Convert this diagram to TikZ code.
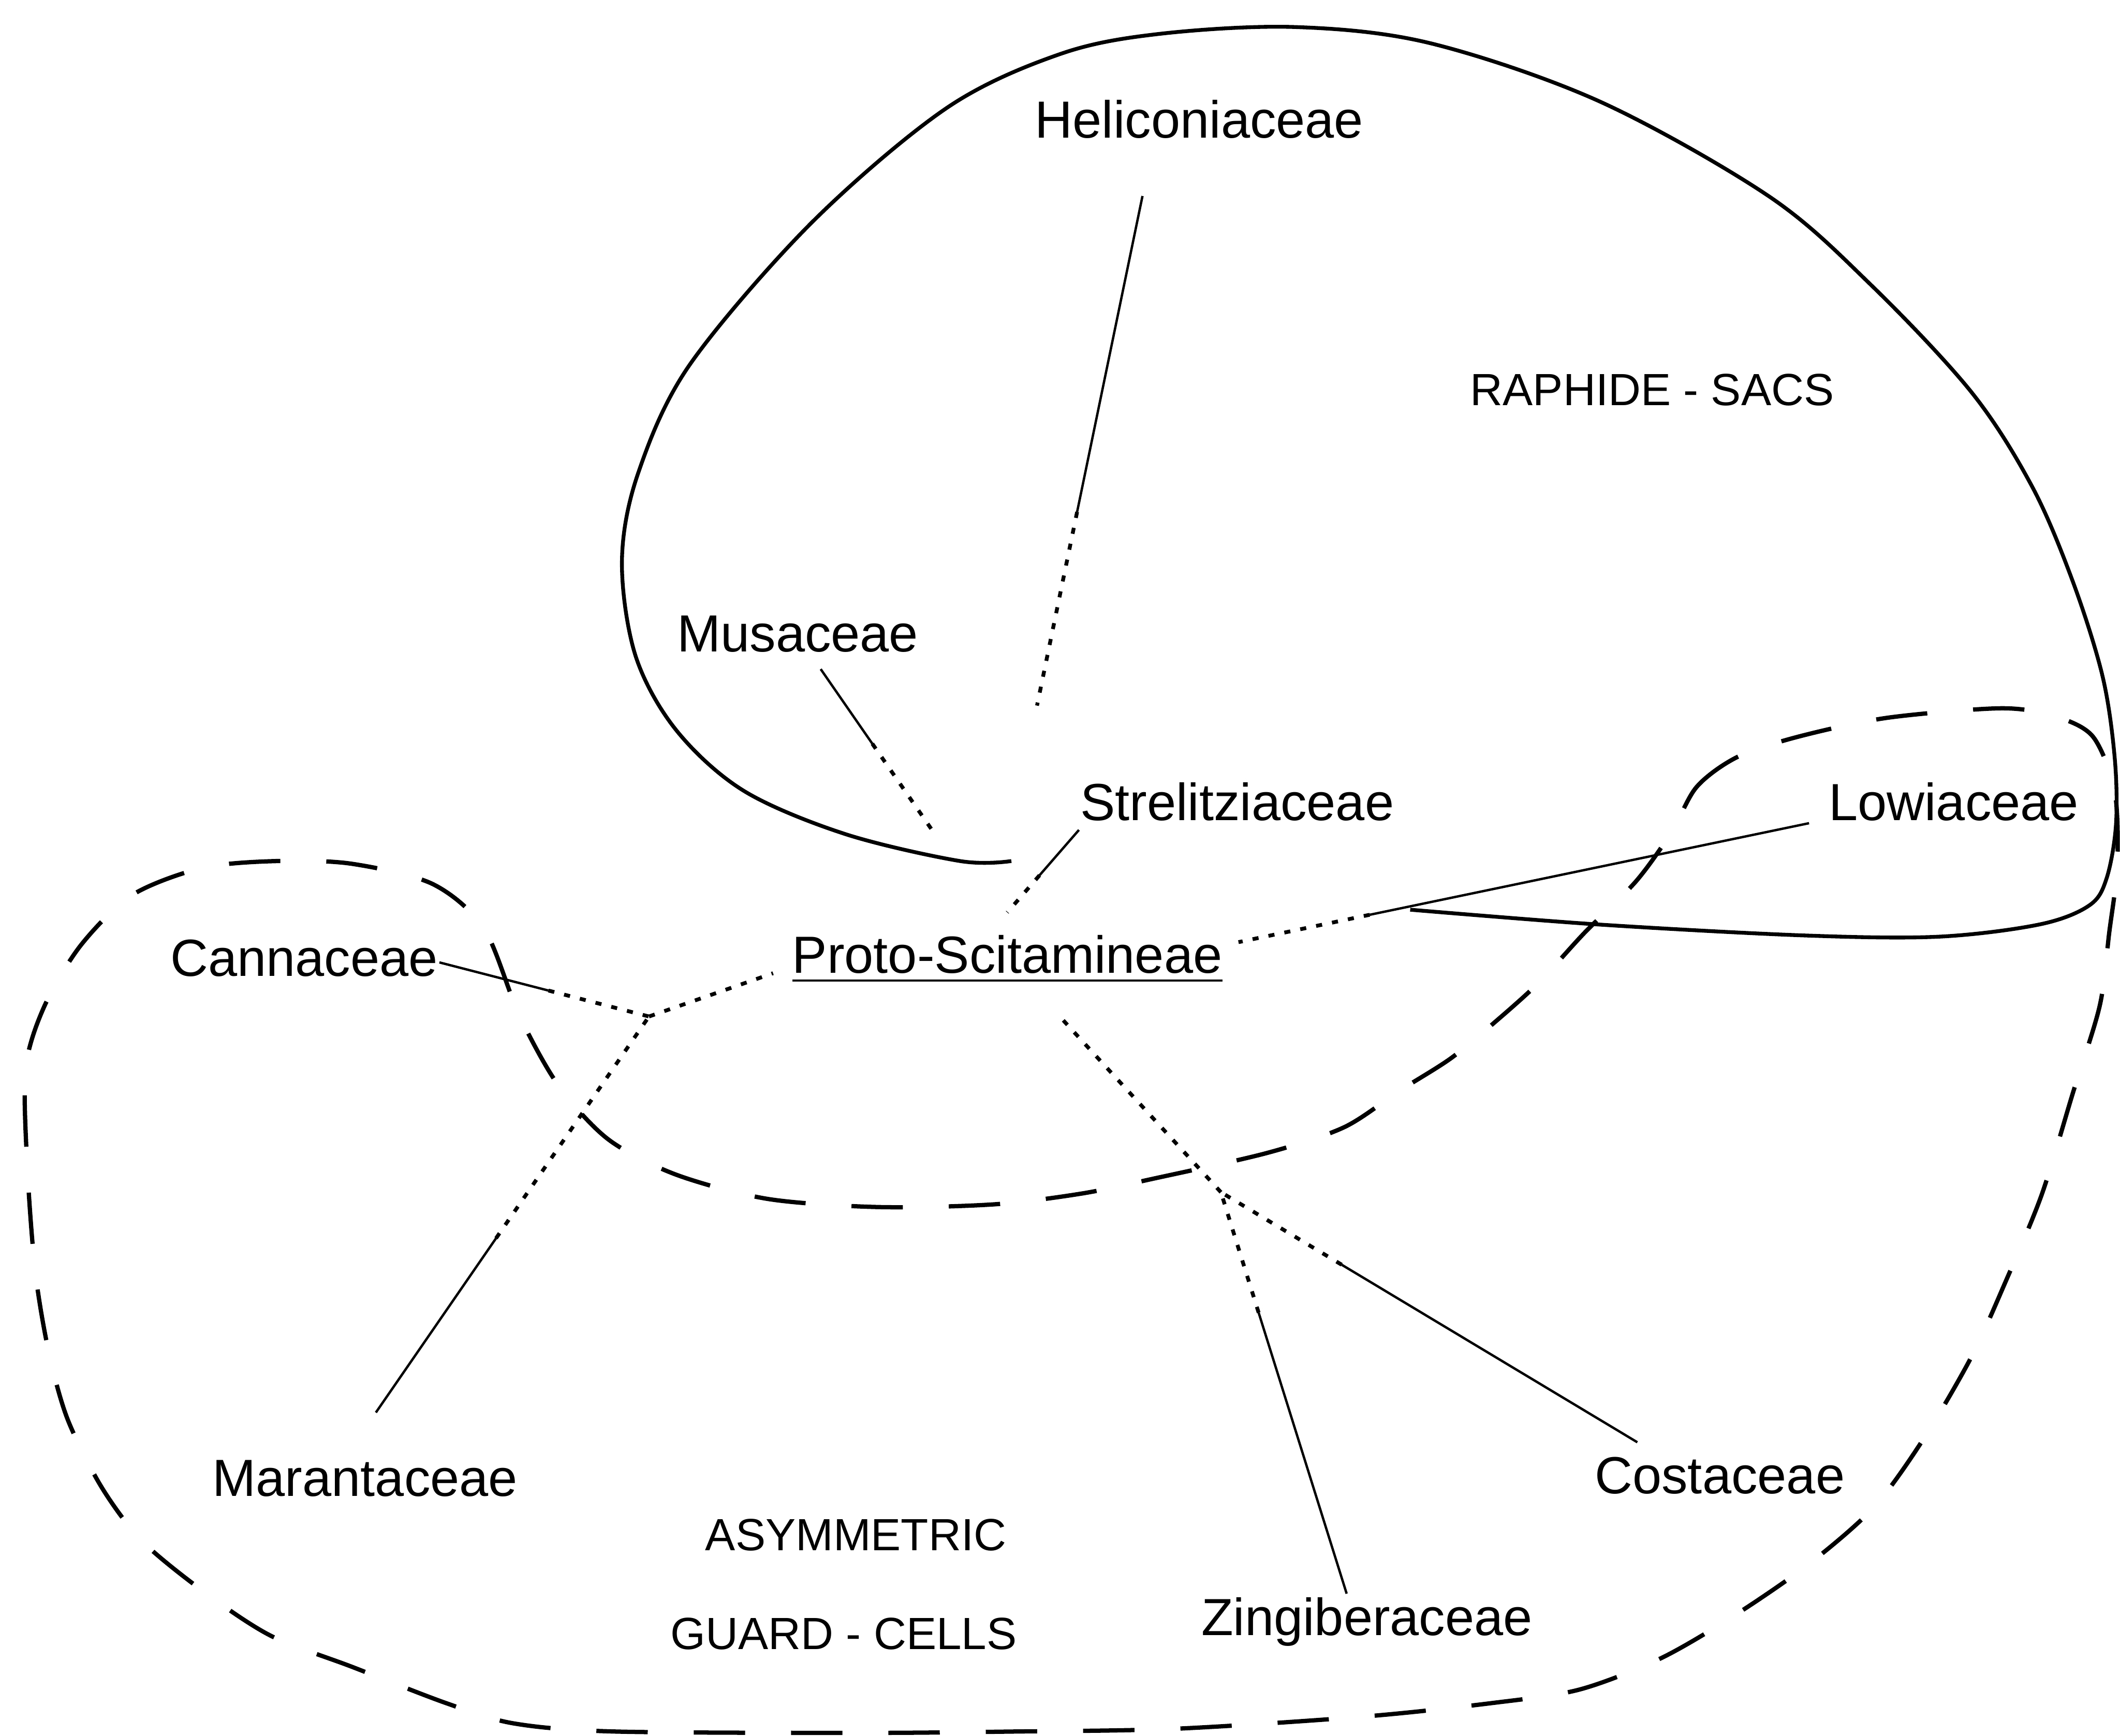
\documentclass[tikz,border=0pt]{standalone}
\usepackage{fontspec}
\setmainfont{Liberation Sans}
\usetikzlibrary{calc}

\begin{document}
\begin{tikzpicture}[
    family/.style={font=\fontsize{11}{13}\selectfont, inner sep=1pt, anchor=base},
    region/.style={font=\fontsize{9.5}{11}\selectfont, inner sep=1pt, anchor=base},
    link/.style={line width=0.5pt},
    dots/.style={line width=0.8pt, dash pattern=on 0.45mm off 0.75mm},
    border/.style={line width=0.8pt, line join=round},
    guard/.style={line width=0.9pt, dash pattern=on 3.8mm off 3.4mm}]
    \useasboundingbox (0,0) rectangle (15.68,-12.84);
    % solid part from the label, dotted part towards the centre
    \def\branch#1#2#3{\draw[link] (#1) -- ($(#1)!#3!(#2)$);
        \draw[dots] ($(#1)!#3!(#2)$) -- (#2);}

    \node[family] (helic) at (8.87,-1.02) {Heliconiaceae};
    \node[region] (raph)  at (12.22,-3.00) {RAPHIDE - SACS};
    \node[family] (musa)  at (5.90,-4.82) {Musaceae};
    \node[family] (strel) at (9.15,-6.07) {Strelitziaceae};
    \node[family] (lowi)  at (14.45,-6.07) {Lowiaceae};
    \node[family] (cann)  at (2.25,-7.22) {Cannaceae};
    \node[family] (proto) at (7.45,-7.20) {\underline{Proto-Scitamineae}};
    \node[family] (mara)  at (2.70,-11.07) {Marantaceae};
    \node[family] (cost)  at (12.72,-11.05) {Costaceae};
    \node[family] (zing)  at (10.11,-12.10) {Zingiberaceae};
    \node[region] (asym)  at (6.33,-11.47) {ASYMMETRIC};
    \node[region] (guardc) at (6.24,-12.20) {GUARD - CELLS};

    \coordinate (j1) at (4.80,-7.52);
    \coordinate (j2) at (9.03,-8.82);
    \coordinate (helicTip) at (8.45,-1.45);  \coordinate (helicFoot) at (7.67,-5.22);
    \coordinate (musaTip) at (6.07,-4.95);   \coordinate (musaFoot) at (6.90,-6.15);
    \coordinate (strelTip) at (7.98,-6.14);  \coordinate (strelFoot) at (7.45,-6.75);
    \coordinate (lowiTip) at (13.38,-6.09);  \coordinate (lowiFoot) at (9.16,-6.97);
    \coordinate (cannTip) at (3.25,-7.12);
    \coordinate (maraTip) at (2.78,-10.45);
    \coordinate (costTip) at (12.11,-10.67);
    \coordinate (zingTip) at (9.96,-11.79);

    \branch{helicTip}{helicFoot}{0.62}
    \branch{musaTip}{musaFoot}{0.46}
    \branch{strelTip}{strelFoot}{0.55}
    \branch{lowiTip}{lowiFoot}{0.77}
    \branch{cannTip}{j1}{0.52}
    \branch{maraTip}{j1}{0.44}
    \branch{costTip}{j2}{0.71}
    \branch{zingTip}{j2}{0.70}
    \draw[dots] (j1) -- ([xshift=-1mm]proto.base west);
    \draw[dots, shorten >=3mm] (j2) -- (proto);

    % raphide-sacs
    \draw[border] plot[smooth, tension=0.55] coordinates {
        (7.48,-6.37) (7.10,-6.37) (6.25,-6.17) (5.50,-5.85) (5.00,-5.40)
        (4.70,-4.85) (4.60,-4.15) (4.72,-3.50) (5.10,-2.70) (6.00,-1.65)
        (7.00,-0.80) (7.84,-0.40) (8.58,-0.25) (9.58,-0.20)
        (10.58,-0.32) (11.83,-0.75) (13.08,-1.45) (13.83,-2.10) (14.58,-2.90)
        (15.03,-3.60) (15.33,-4.30) (15.55,-5.00) (15.64,-5.60) (15.65,-6.10)
        (15.58,-6.50) (15.45,-6.70) (15.08,-6.84) (14.33,-6.93) (13.33,-6.92)
        (11.83,-6.84) (10.43,-6.73)};

    % asymmetric guard-cells
    \draw[guard] plot[smooth cycle, tension=0.5] coordinates {
        (12.36,-6.16) (12.55,-5.82) (12.85,-5.60) (13.30,-5.45) (13.96,-5.31)
        (14.80,-5.24) (15.20,-5.30) (15.48,-5.45) (15.64,-5.85) (15.66,-6.40)
        (15.60,-6.90) (15.53,-7.44) (15.33,-8.09) (15.10,-8.84) (14.83,-9.49)
        (14.58,-10.04) (14.23,-10.64) (13.86,-11.15) (13.38,-11.57) (12.83,-11.95)
        (12.28,-12.27) (11.68,-12.50) (11.03,-12.60) (10.08,-12.70) (8.68,-12.79)
        (7.50,-12.81) (6.40,-12.82) (4.55,-12.81) (3.80,-12.75) (3.30,-12.60)
        (2.60,-12.33) (2.00,-12.10) (1.50,-11.77) (1.05,-11.40) (0.75,-11.00)
        (0.50,-10.50) (0.36,-10.00) (0.26,-9.40) (0.20,-8.60) (0.19,-7.90)
        (0.33,-7.44) (0.60,-6.99) (0.98,-6.62) (1.50,-6.42) (2.05,-6.37)
        (2.60,-6.39) (3.20,-6.54) (3.58,-6.87) (3.84,-7.51) (4.13,-8.03)
        (4.50,-8.43) (5.00,-8.69) (5.68,-8.87) (6.50,-8.93) (7.35,-8.91)
        (8.00,-8.83) (8.53,-8.72) (9.37,-8.53) (9.94,-8.34) (10.35,-8.07)
        (10.73,-7.83) (11.07,-7.55) (11.38,-7.27) (11.72,-6.90) (12.10,-6.52)};
\end{tikzpicture}
\end{document}
